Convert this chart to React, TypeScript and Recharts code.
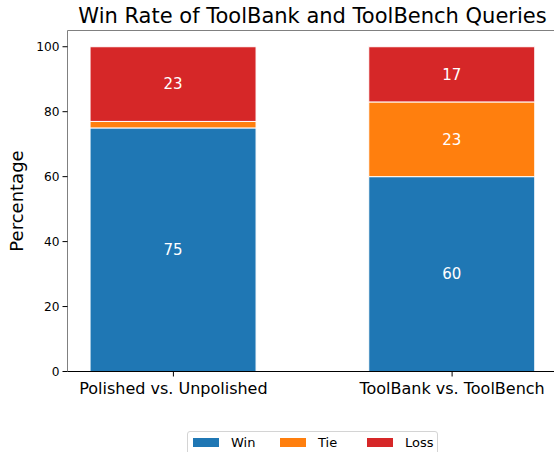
import { Bar, BarChart, LabelList, ReferenceLine, XAxis, YAxis } from "recharts";

const categories = ["Polished vs. Unpolished", "ToolBank vs. ToolBench"];
const win = [75, 60];
const tie = [2, 23];
const loss = [23, 17];
const yTicks = [0, 20, 40, 60, 80, 100];

const series = [
  { key: "win", name: "Win", color: "#1f77b4" },
  { key: "tie", name: "Tie", color: "#ff7f0e" },
  { key: "loss", name: "Loss", color: "#d62728" },
];

const data = categories.map((name, i) => ({
  x: i,
  name,
  win: win[i],
  tie: tie[i],
  loss: loss[i],
}));

const font = "'DejaVu Sans', sans-serif";
const spine = "#808080";

const showLabel = (v: any) => (Number(v) >= 5 ? v : "");

export default function App() {
  return (
    <div
      style={{
        position: "absolute",
        left: 0,
        top: 0,
        width: 554,
        height: 452,
        overflow: "hidden",
        background: "#fff",
        fontFamily: font,
      }}
    >
      <div
        style={{
          position: "absolute",
          left: 0,
          top: 6,
          width: 625,
          textAlign: "center",
          fontSize: 21,
          lineHeight: "20px",
          color: "#000",
          whiteSpace: "nowrap",
        }}
      >
        Win Rate of ToolBank and ToolBench Queries
      </div>

      <BarChart
        width={570}
        height={452}
        data={data}
        margin={{ top: 30.5, right: 12, left: 0, bottom: 0 }}
        style={{ position: "absolute", left: 0, top: 0 }}
      >
        <XAxis
          type="number"
          dataKey="x"
          domain={[-0.38, 1.38]}
          ticks={[0, 1]}
          tickFormatter={(v) => categories[v] ?? ""}
          height={80.5}
          tickSize={5}
          tickMargin={6}
          stroke="#000"
          tick={{ fill: "#000", fontSize: 16, fontFamily: font }}
          axisLine={{ stroke: "#000" }}
          tickLine={{ stroke: "#000" }}
          allowDataOverflow
        />
        <YAxis
          type="number"
          domain={[0, 105]}
          ticks={yTicks}
          width={67.5}
          tickSize={5}
          tickMargin={3}
          tick={{ fill: "#000", fontSize: 12.2, fontFamily: font }}
          axisLine={{ stroke: spine }}
          tickLine={{ stroke: "#000" }}
          allowDataOverflow
          label={({ viewBox }: any) => (
            <text
              x={0}
              y={0}
              transform={`translate(23, ${viewBox.y + viewBox.height / 2}) rotate(-90)`}
              textAnchor="middle"
              fontSize={18}
              fontFamily={font}
              fill="#000"
            >
              Percentage
            </text>
          )}
        />
        <ReferenceLine y={105} stroke={spine} strokeWidth={1} ifOverflow="visible" />
        {series.map((s) => (
          <Bar
            key={s.key}
            dataKey={s.key}
            name={s.name}
            stackId="a"
            fill={s.color}
            stroke="#fff"
            strokeWidth={1}
            barSize={166}
            isAnimationActive={false}
          >
            <LabelList
              dataKey={s.key}
              position="center"
              fill="#fff"
              fontSize={15}
              fontFamily={font}
              formatter={showLabel}
            />
          </Bar>
        ))}
      </BarChart>

      <div
        style={{
          position: "absolute",
          left: 187,
          top: 431,
          width: 251,
          height: 30,
          border: "1px solid #d4d4d4",
          borderRadius: 3,
          background: "#fff",
          boxSizing: "border-box",
        }}
      >
        {series.map((s, i) => (
          <div
            key={s.key}
            style={{
              position: "absolute",
              left: 5 + i * 87,
              top: 5,
              display: "flex",
              alignItems: "center",
              height: 10,
            }}
          >
            <span
              style={{
                display: "inline-block",
                width: 26,
                height: 9,
                background: s.color,
              }}
            />
            <span style={{ marginLeft: 12, fontSize: 13, lineHeight: "13px", color: "#000" }}>
              {s.name}
            </span>
          </div>
        ))}
      </div>
    </div>
  );
}
